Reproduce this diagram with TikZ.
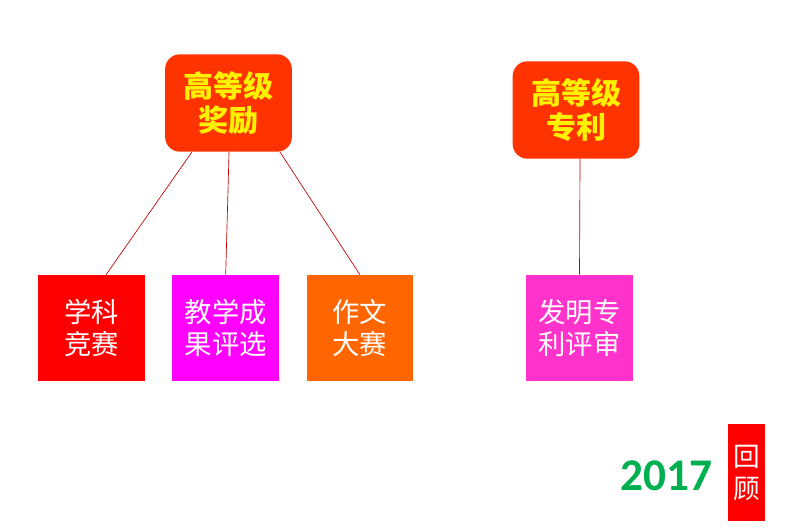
\documentclass[tikz,border=0pt]{standalone}
\usepackage{fontspec}
\setmainfont{Carlito}
\newfontfamily\cjk{Noto Sans CJK SC}
\usetikzlibrary{positioning}

\definecolor{prizered}{HTML}{FF3300}
\definecolor{contestred}{HTML}{FF0000}
\definecolor{teachpink}{HTML}{FF00FF}
\definecolor{essayorange}{HTML}{FF6600}
\definecolor{patentpink}{HTML}{FF33CC}
\definecolor{linkred}{HTML}{C00000}
\definecolor{yeargreen}{HTML}{00B050}

\tikzset{
  award/.style={fill=prizered, rounded corners=11pt, minimum width=95pt, minimum height=73pt,
    inner sep=0pt, align=center, text=yellow, font=\cjk\bfseries\fontsize{22.5}{25}\selectfont},
  item/.style={minimum width=80pt, minimum height=79.5pt, inner sep=0pt, align=center,
    text=white, font=\cjk\fontsize{20.5}{24}\selectfont},
  link/.style={draw=linkred, line width=0.5pt}
}

\begin{document}
\begin{tikzpicture}[x=0.75pt, y=-0.75pt, node distance=20.25pt]
  \useasboundingbox (0,0) rectangle (787,531);

  % top level
  \node[award] (prize) at (228.5,103) {高等级\\奖励} ; %
  \node[award] (patent) at (576,110) {高等级\\专利} ; %

  % second level
  \node[item, fill=contestred] (contest) at (91.5,328) {学科\\竞赛} ; %
  \node[item, fill=teachpink, right=of contest] (teach) {教学成\\果评选} ; %
  \node[item, fill=essayorange, right=of teach] (essay) {作文\\大赛} ; %
  \node[item, fill=patentpink] (invent) at (579.5,328) {发明专\\利评审} ; %

  \draw[link] ([xshift=-27.4pt]prize.south) -- ([xshift=10.9pt]contest.north);
  \draw[link] ([xshift=0.4pt]prize.south) -- (teach.north);
  \draw[link] ([xshift=38.6pt]prize.south) -- (essay.north);
  \draw[link] ([xshift=3pt]patent.south) -- (invent.north);

  % year tag
  \node[text=yeargreen, font=\bfseries\fontsize{34}{34}\selectfont] (year) at (666,476) {2017} ; %
  \node[fill=contestred, minimum width=28pt, minimum height=73pt, inner sep=0pt, align=center,
    text=white, font=\cjk\fontsize{20}{24}\selectfont] (review) at (746.5,472.5) {回\\顾} ; %
\end{tikzpicture}
\end{document}
